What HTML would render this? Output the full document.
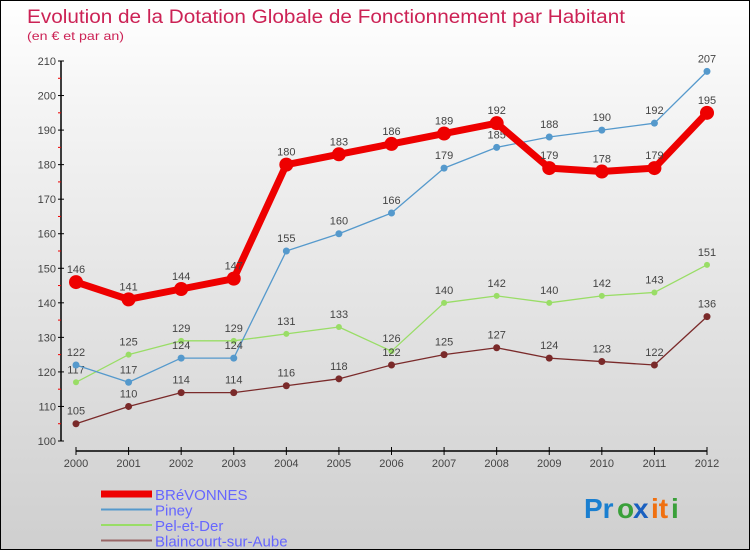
<!DOCTYPE html>
<html><head><meta charset="utf-8"><style>
body{margin:0;}
#c{width:748px;height:548px;border:1px solid #000;background:linear-gradient(#ffffff,#f4f4f4 20%,#cfcfcf);position:relative;overflow:hidden;font-family:"Liberation Sans",sans-serif;}
svg text{font-family:"Liberation Sans",sans-serif;}
</style></head><body>
<div id="c">
<svg id="s" width="748" height="548" xmlns="http://www.w3.org/2000/svg">
<text x="26" y="22" font-size="19" textLength="598" lengthAdjust="spacingAndGlyphs" fill="#cc2255">Evolution de la Dotation Globale de Fonctionnement par Habitant</text>
<text x="26" y="39" font-size="12" textLength="97" lengthAdjust="spacingAndGlyphs" fill="#cc2255">(en € et par an)</text>
<g id="axes"></g><g id="series"></g><g id="legend"></g>
<g font-size="28" font-weight="bold">
<text x="583" y="517" fill="#1a7fd0">Pr</text><text x="616" y="517" fill="#3aa03a">o</text><text x="632" y="517" fill="#1a60c0">x</text><text x="650" y="517" fill="#f07010">it</text><text x="670" y="517" fill="#3aa03a">i</text>
</g>
</svg>
</div>
<script>
const years=[2000,2001,2002,2003,2004,2005,2006,2007,2008,2009,2010,2011,2012];
const yTicks=[100,110,120,130,140,150,160,170,180,190,200,210];
const breVals=[146,141,144,147,180,183,186,189,192,179,178,179,195];
const pineyVals=[122,117,124,124,155,160,166,179,185,188,190,192,207];
const pelVals=[117,125,129,129,131,133,126,140,142,140,142,143,151];
const blainVals=[105,110,114,114,116,118,122,125,127,124,123,122,136];
const NS="http://www.w3.org/2000/svg";
const xs=i=>75+i*(706-75)/12;
const ys=v=>440-(v-100)*(380/110);
function mk(t,a,p){const e=document.createElementNS(NS,t);for(const k in a)e.setAttribute(k,a[k]);p.appendChild(e);return e;}
const ax=document.getElementById('axes');
const yl=mk('line',{x1:60,y1:60,x2:60,y2:440,stroke:'#000','stroke-width':1.5},ax);


const xl=mk('line',{x1:75,y1:450,x2:706,y2:450,stroke:'#000','stroke-width':1.5},ax);


yTicks.forEach(v=>{const y=ys(v);
mk('line',{x1:57,y1:y,x2:63,y2:y,stroke:'#000'},ax);
if(v<210)mk('line',{x1:57,y1:ys(v+5),x2:60,y2:ys(v+5),stroke:'#e00'},ax);
const t=mk('text',{x:55,y:y+4,'text-anchor':'end','font-size':11,fill:'#444'},ax);t.textContent=v;

});
years.forEach((yr,i)=>{const x=xs(i);
mk('line',{x1:x,y1:446,x2:x,y2:454,stroke:'#000'},ax);
const t=mk('text',{x:x,y:466,'text-anchor':'middle','font-size':11,fill:'#444'},ax);t.textContent=yr;

});
const sg=document.getElementById('series');
function series(vals,color,w,r,name){
const g=mk('g',{},sg);


mk('polyline',{points:vals.map((v,i)=>xs(i)+','+ys(v)).join(' '),fill:'none',stroke:color,'stroke-width':w,'stroke-linejoin':'round'},g);
vals.forEach((v,i)=>{const c=mk('circle',{cx:xs(i),cy:ys(v),r:r,fill:color},g);


const t=mk('text',{x:xs(i),y:ys(v)-9,'text-anchor':'middle','font-size':11,fill:'#444'},g);t.textContent=v;});
}
series(pelVals,'#99dd66',1.3,3,'series-pel-et-der');
series(blainVals,'#7a2a2a',1.3,3.5,'series-blaincourt');
series(pineyVals,'#5599cc',1.3,3.5,'series-piney');
series(breVals,'#ee0000',7,7,'series-brevonnes');
const lg=document.getElementById('legend');
const items=[['BRéVONNES','#ee0000',7],['Piney','#5599cc',2],['Pel-et-Der','#99dd66',2],['Blaincourt-sur-Aube','#996666',2]];
items.forEach((it,i)=>{const y=493+i*15.5;
const g=mk('g',{},lg);


mk('line',{x1:100,y1:y,x2:151,y2:y,stroke:it[1],'stroke-width':it[2]},g);
const t=mk('text',{x:154,y:y+6,'font-size':15,fill:'#6666ff'},g);t.textContent=it[0];});
</script>
</body></html>
